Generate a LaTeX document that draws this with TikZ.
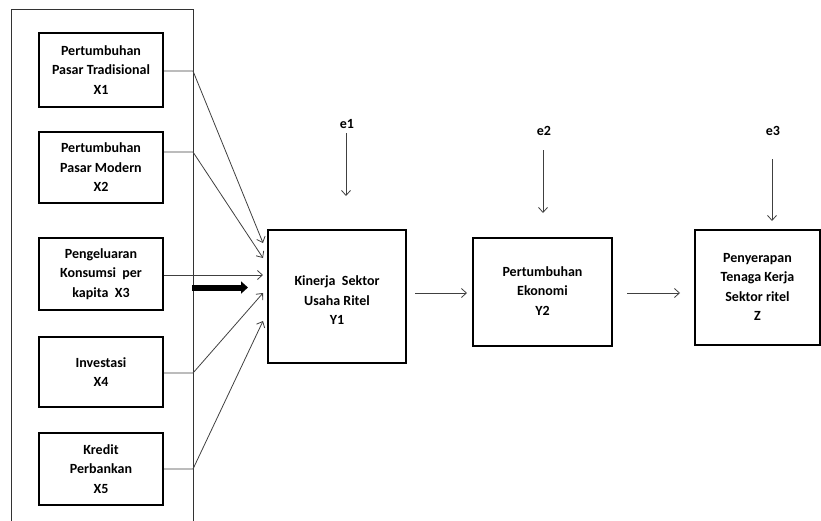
\documentclass[tikz,border=0pt]{standalone}
\usepackage{fontspec}
\setmainfont{Carlito}
\usetikzlibrary{arrows.meta,calc}
\begin{document}
\begin{tikzpicture}[x=1pt,y=-1pt,
  box/.style={draw=black,line width=1.6pt,align=center,inner sep=0pt,
    font=\fontsize{14}{19.5}\selectfont\bfseries},
  conn/.style={draw=black!75,line width=0.8pt},
  arr/.style={conn,-{Straight Barb[length=5pt,width=9pt]}},
  lbl/.style={font=\fontsize{14}{16}\selectfont\bfseries,inner sep=0pt}]
\useasboundingbox (0,0) rectangle (821,520);
% outer frame (open at bottom)
\draw[black!80,line width=1pt] (11,522) -- (11,9) -- (193,9) -- (193,522);
\coordinate (bx) at (193,0);
% exogenous boxes
\node[box,minimum width=124pt,minimum height=74pt] (X1) at (101,70) {Pertumbuhan\\Pasar Tradisional\\X1};
\node[box,minimum width=124pt,minimum height=71pt] (X2) at (101,167.5) {Pertumbuhan\\Pasar Modern\\X2};
\node[box,minimum width=124pt,minimum height=72pt] (X3) at (101,274) {Pengeluaran\\Konsumsi\ \ per\\kapita\ \ X3};
\node[box,minimum width=124pt,minimum height=70pt] (X4) at (101,372) {Investasi\\X4};
\node[box,minimum width=124pt,minimum height=72pt] (X5) at (101,469) {Kredit\\Perbankan\\X5};
% endogenous boxes
\node[box,minimum width=138pt,minimum height=133pt] (Y1) at (337,296.5) {\raisebox{-5pt}[\height][\depth]{\begin{tabular}{@{}c@{}}Kinerja\ \ Sektor\\Usaha\ Ritel\\Y1\end{tabular}}};
\node[box,minimum width=139pt,minimum height=108pt] (Y2) at (542.5,292) {\begin{tabular}{@{}c@{}}Pertumbuhan\\Ekonomi\\Y2\end{tabular}};
\node[box,minimum width=125pt,minimum height=115pt] (Z) at (757.5,287.5) {\begin{tabular}{@{}c@{}}Penyerapan\\Tenaga Kerja\\Sektor ritel\\Z\end{tabular}};
% error terms
\node[lbl] (e1) at (347,124) {e1};
\node[lbl] (e2) at (544,131) {e2};
\node[lbl] (e3) at (773,131) {e3};
\coordinate (e1a) at (346,133);
\coordinate (e1b) at (346,196);
\coordinate (e2a) at (543,150);
\coordinate (e2b) at (543,213);
\coordinate (e3a) at (772,159);
\coordinate (e3b) at (772,221);
\draw[arr] (e1a) -- (e1b);
\draw[arr] (e2a) -- (e2b);
\draw[arr] (e3a) -- (e3b);
% targets on Y1
\coordinate (t1) at (263,243);
\coordinate (t2) at (263,258);
\coordinate (t3) at (263,275);
\coordinate (t4) at (263,293);
\coordinate (t5) at (263,321);
\draw[arr] (X1.east |- 0,71) -- (bx |- 0,71) -- (t1);
\draw[arr] (X2.east |- 0,152) -- (bx |- 0,152) -- (t2);
\draw[arr] (X3.east |- 0,275) -- (t3);
\draw[arr] (X4.east |- 0,373) -- (bx |- 0,373) -- (t4);
\draw[arr] (X5.east |- 0,469) -- (bx |- 0,469) -- (t5);
% thick arrow
\coordinate (k1) at (192,287.5);
\coordinate (k2) at (248,287.5);
\draw[line width=6pt,-{Triangle[length=7pt,width=12pt]}] (k1) -- (k2);
% chain arrows
\coordinate (c1) at (415,293);
\coordinate (c2) at (467,293);
\coordinate (c3) at (627,293);
\coordinate (c4) at (680,293);
\draw[arr] (c1) -- (c2);
\draw[arr] (c3) -- (c4);
\end{tikzpicture}
\end{document}
